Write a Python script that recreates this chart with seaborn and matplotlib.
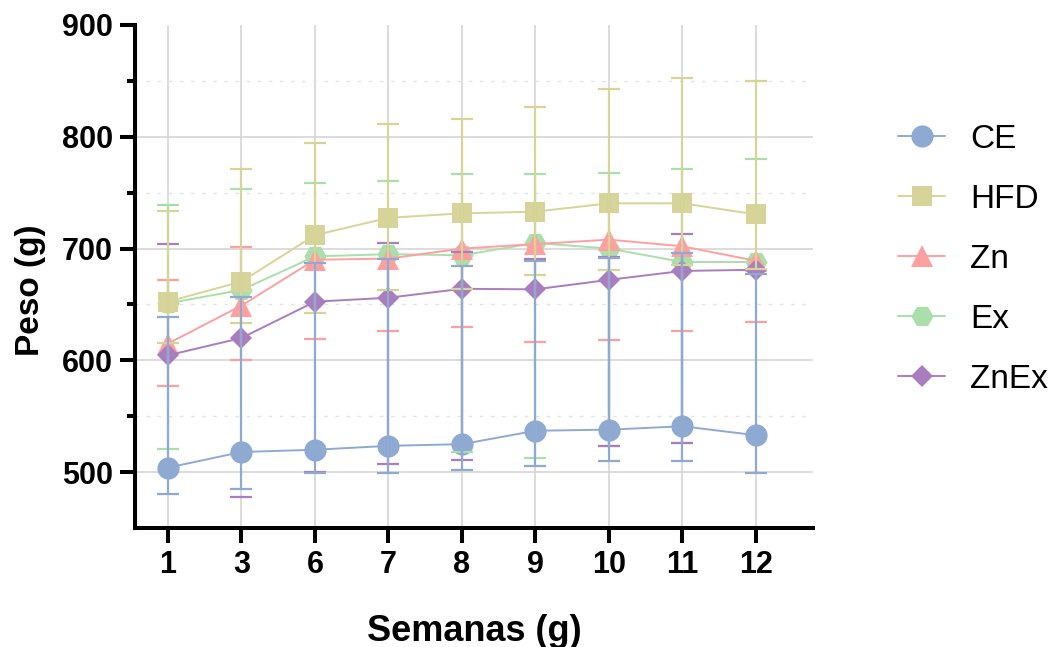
import numpy as np
import matplotlib
matplotlib.use("Agg")
import matplotlib.pyplot as plt
import seaborn as sns

# Data (NaN = error cap not visible)
nan = np.nan
weeks = ["1", "3", "6", "7", "8", "9", "10", "11", "12"]
groups = ["CE", "HFD", "Zn", "Ex", "ZnEx"]

ce_mean = [504, 518, 520, 523.5, 525, 537, 538, 541, 533]
ce_hi = [638.6, 656.4, 687, 690.5, 684.3, 689, 691.4, 695.8, 677.4]
ce_lo = [480, 485, 499.5, 499.5, 502, 505.5, 510, 510, 499.5]

hfd_mean = [652.5, 670.5, 712, 727.5, 731.5, 733, 740.5, 740.5, 730.5]
hfd_hi = [734, 771, 794.5, 811, 816, 826.5, 843, 853, 850]
hfd_lo = [615.5, 633.5, 642.5, 663, 664, 676.5, 681, 685, 681.5]

zn_mean = [615, 649, 690, 691, 700, 704, 708, 702, 689]
zn_hi = [672, 701.5, nan, nan, nan, nan, nan, nan, nan]
zn_lo = [577, 600, 619.3, 626, 629.6, 616, 617.8, 626.1, 634.7]

ex_mean = [651, 663, 693, 695, 694, 705, 700, 688, 688]
ex_hi = [739, 753.5, 758.5, 760.5, 767, 767, 768, 771, 780]
ex_lo = [520.5, nan, nan, nan, 518, 512.3, 523, 526, nan]

znex_mean = [604.5, 620, 652.5, 656, 664, 663.5, 672, 680, 681]
znex_hi = [704, nan, nan, 705.3, 697, 690.5, 692.6, 712.8, nan]
znex_lo = [nan, 477.5, 499.7, 507, 510.4, nan, 523, 526, nan]

means = [ce_mean, hfd_mean, zn_mean, ex_mean, znex_mean]
his = [ce_hi, hfd_hi, zn_hi, ex_hi, znex_hi]
los = [ce_lo, hfd_lo, zn_lo, ex_lo, znex_lo]

colors = ["#8FAAD2", "#D6D498", "#FFA0A0", "#AADEAA", "#AA7DBE"]
markers = ["o", "s", "^", "H", "D"]
msizes = [16, 15, 16, 16, 11]
zorders = [7, 4, 5, 3, 6]
err_z = [14, 13, 11, 10, 12]

sns.set_style("white")
plt.rcParams["font.family"] = ["Liberation Sans", "DejaVu Sans"]
plt.rcParams["text.color"] = "black"
plt.rcParams["axes.labelcolor"] = "black"
plt.rcParams["xtick.color"] = "black"
plt.rcParams["ytick.color"] = "black"

fig = plt.figure(figsize=(10.6, 6.47), dpi=100)
ax = fig.add_axes([135 / 1060, 1 - 528 / 647, 678 / 1060, 503 / 647])

x = np.arange(len(weeks))

# grid
for xi in x:
    ax.axvline(xi, color="#d6d6d6", lw=1.2, zorder=0)
for yv in [500, 600, 700, 800]:
    ax.axhline(yv, color="#d6d6d6", lw=1.2, zorder=0)
for yv in [550, 650, 750, 850]:
    ax.axhline(yv, color="#e2e2e2", lw=1.0, ls=(0, (2.5, 5.5)), zorder=0)

for i, g in enumerate(groups):
    m = np.array(means[i], dtype=float)
    sns.lineplot(x=x, y=m, ax=ax, color=colors[i], marker=markers[i],
                 markersize=msizes[i], markeredgewidth=0, linewidth=1.4,
                 label=g, zorder=zorders[i])
    up = np.array(his[i], dtype=float) - m
    dn = m - np.array(los[i], dtype=float)
    ax.errorbar(x, m, yerr=[dn, up], fmt="none", ecolor=colors[i],
                elinewidth=1.6, capsize=8, capthick=1.6, zorder=err_z[i])

ax.set_xlim(-0.449, 8.776)
ax.set_ylim(450, 900)
ax.set_xticks(x)
ax.set_xticklabels(weeks)
ax.set_yticks([500, 600, 700, 800, 900])
ax.set_yticks([550, 650, 750, 850], minor=True)

for s in ["top", "right"]:
    ax.spines[s].set_visible(False)
for s in ["left", "bottom"]:
    ax.spines[s].set_linewidth(2.9)
    ax.spines[s].set_color("black")

ax.tick_params(axis="both", which="major", length=11, width=2.9,
               labelsize=22, pad=5, color="black", direction="out")
ax.tick_params(axis="y", which="minor", length=6, width=2.9, color="black",
               left=True)
ax.tick_params(axis="x", bottom=True)
ax.tick_params(axis="y", left=True)
for lab in ax.get_xticklabels() + ax.get_yticklabels():
    lab.set_fontweight("bold")

ax.set_xlabel("Semanas (g)", fontsize=26, fontweight="bold")
ax.set_ylabel("Peso (g)", fontsize=24, fontweight="bold")
ax.xaxis.set_label_coords(0.5, -0.17)
ax.yaxis.set_label_coords(-0.131, 0.473)

ax.legend(loc="upper left", bbox_to_anchor=(898 / 1060, 1 - 124 / 647),
          bbox_transform=fig.transFigure, frameon=False, fontsize=24,
          handlelength=1.41, handletextpad=0.75, labelspacing=0.87,
          borderpad=0, borderaxespad=0)

fig.savefig("out.png", dpi=100)
